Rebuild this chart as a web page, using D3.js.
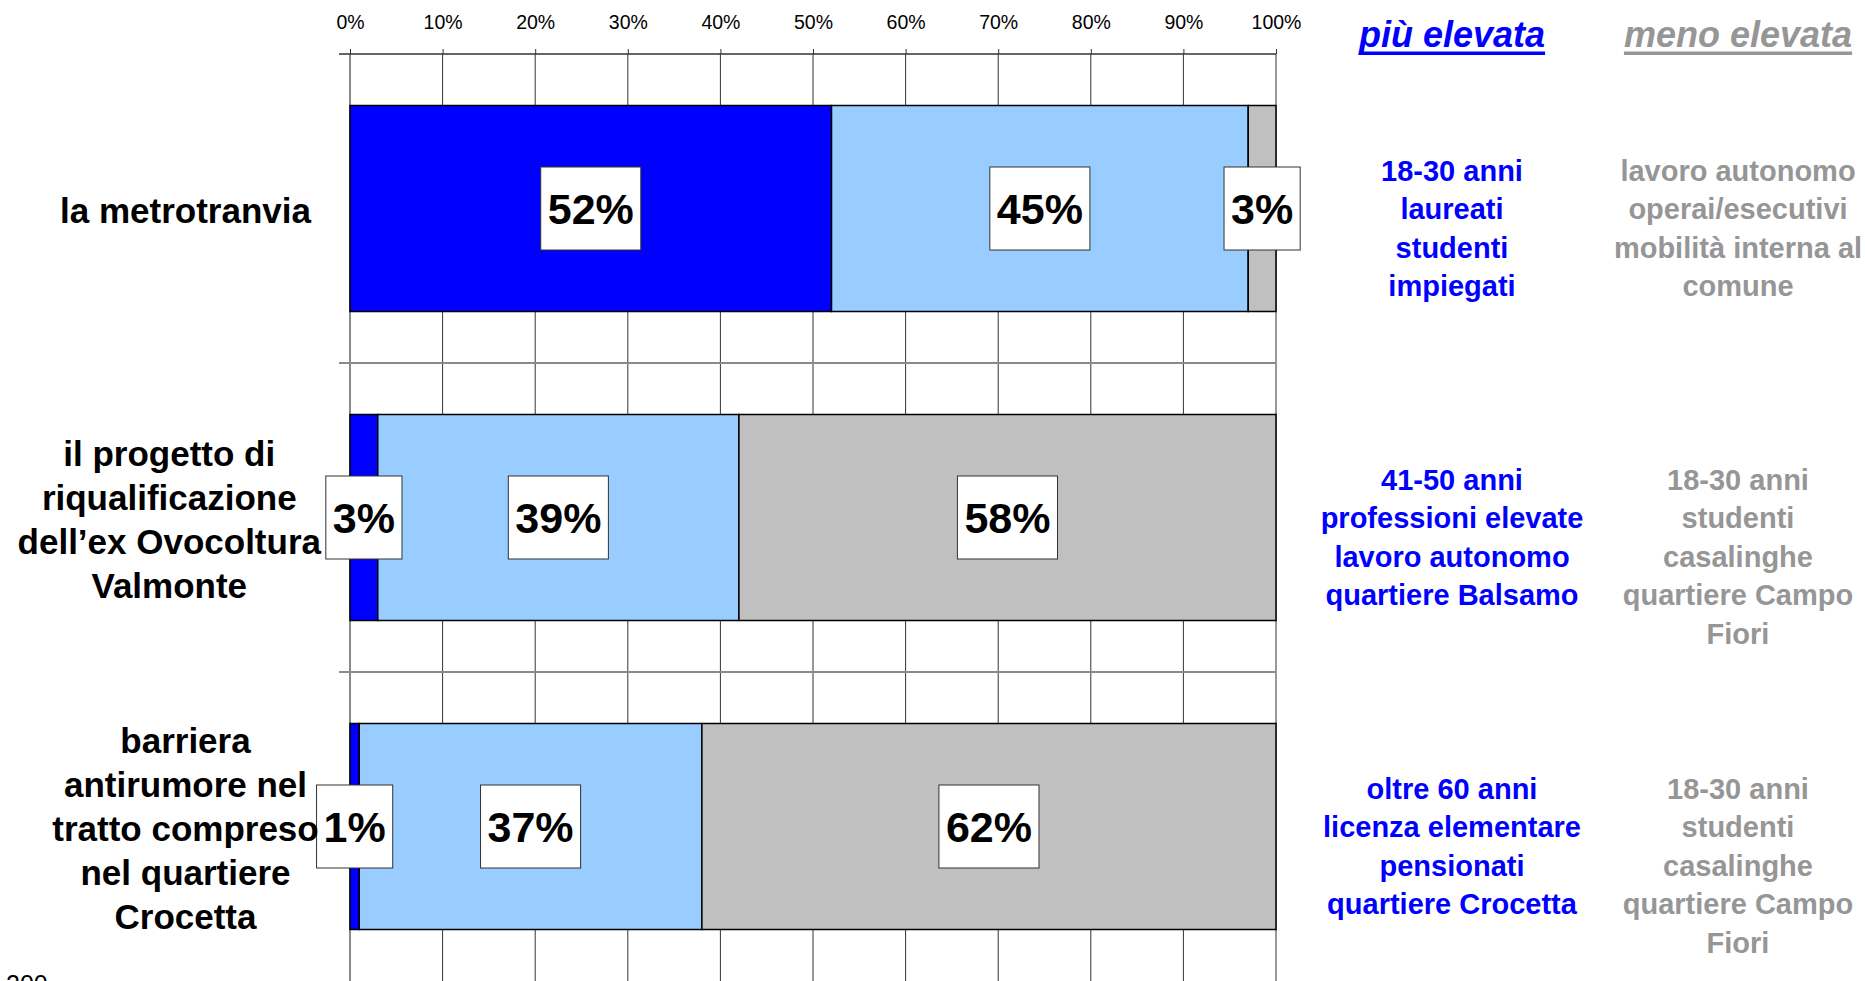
<!DOCTYPE html>
<html>
<head>
<meta charset="utf-8">
<script src="https://cdn.jsdelivr.net/npm/d3@7/dist/d3.min.js"></script>
<style>
  html, body { margin: 0; padding: 0; background: #fff; }
  svg { display: block; font-family: "Liberation Sans", Arial, sans-serif; }
</style>
</head>
<body>
<svg id="chart" width="1865" height="981"></svg>
<script>
// ---- data ----
const categories = ["la metrotranvia", "il progetto di riqualificazione dell’ex Ovocoltura Valmonte", "barriera antirumore nel tratto compreso nel quartiere Crocetta"];
const categoryLines = [
  ["la metrotranvia"],
  ["il progetto di", "riqualificazione", "dell’ex Ovocoltura", "Valmonte"],
  ["barriera", "antirumore nel", "tratto compreso", "nel quartiere", "Crocetta"]
];
const seriesNames = ["più elevata", "uguale", "meno elevata"];
const seriesHigh = [52, 3, 1];
const seriesMid = [45, 39, 37];
const seriesLow = [3, 58, 62];
const tickValues = [0, 10, 20, 30, 40, 50, 60, 70, 80, 90, 100];
const headerHigh = "più elevata";
const headerLow = "meno elevata";
const textHigh = [
  ["18-30 anni", "laureati", "studenti", "impiegati"],
  ["41-50 anni", "professioni elevate", "lavoro autonomo", "quartiere Balsamo"],
  ["oltre 60 anni", "licenza elementare", "pensionati", "quartiere Crocetta"]
];
const textLow = [
  ["lavoro autonomo", "operai/esecutivi", "mobilità interna al", "comune"],
  ["18-30 anni", "studenti", "casalinghe", "quartiere Campo", "Fiori"],
  ["18-30 anni", "studenti", "casalinghe", "quartiere Campo", "Fiori"]
];
const footnote = "200";

// ---- layout ----
const colors = ["#0000FF", "#99CCFF", "#C0C0C0"];
const blueText = "#0000FF", grayText = "#969696";
const svg = d3.select("#chart");

const x = d3.scaleLinear().domain([0, 100]).range([350, 1276]);
const y = d3.scaleBand().domain(categories).range([54, 981]).paddingInner(1/3).paddingOuter(1/6);
const step = y.step();

// gridlines
const grid = svg.append("g");
grid.selectAll("line.v").data(tickValues.slice(1)).join("line")
  .attr("x1", d => x(d)).attr("x2", d => x(d))
  .attr("y1", 54).attr("y2", 981)
  .attr("stroke", "#333").attr("stroke-width", 1);

// category separators
const seps = categories.slice(1).map(c => y(c) - step * (1/3) / 2);
grid.selectAll("line.s").data(seps).join("line")
  .attr("x1", 339).attr("x2", x(100))
  .attr("y1", d => d).attr("y2", d => d)
  .attr("stroke", "#8a8a8a").attr("stroke-width", 2);

// category axis line
grid.append("line").attr("x1", x(0)).attr("x2", x(0)).attr("y1", 54).attr("y2", 981)
  .attr("stroke", "#8a8a8a").attr("stroke-width", 2);

// top axis
const axisG = svg.append("g").attr("transform", "translate(0,54)")
  .call(d3.axisTop(x).tickValues(tickValues).tickFormat(d => d + "%").tickSize(5).tickSizeOuter(0).tickPadding(20));
axisG.select(".domain").remove();
axisG.selectAll(".tick line").attr("stroke", "#333");
axisG.selectAll(".tick text").attr("font-size", 19.5).attr("fill", "#000")
  .attr("font-family", "Liberation Sans, Arial, sans-serif");
svg.append("line").attr("x1", 339).attr("x2", x(100)).attr("y1", 54).attr("y2", 54)
  .attr("stroke", "#333").attr("stroke-width", 1.5);

// stacked data
const stackData = categories.map((c, i) => ({ cat: c, high: seriesHigh[i], mid: seriesMid[i], low: seriesLow[i] }));
const stack = d3.stack().keys(["high", "mid", "low"]);
const layers = stack(stackData);

const barsG = svg.append("g");
layers.forEach((layer, li) => {
  barsG.selectAll(null).data(layer).join("rect")
    .attr("x", d => x(d[0]))
    .attr("y", d => y(d.data.cat))
    .attr("width", d => x(d[1]) - x(d[0]))
    .attr("height", y.bandwidth())
    .attr("fill", colors[li])
    .attr("stroke", "#000").attr("stroke-width", 1.5);
});

// value labels
const labG = svg.append("g");
layers.forEach((layer, li) => {
  layer.forEach(d => {
    const cx = x((d[0] + d[1]) / 2);
    const cy = y(d.data.cat) + y.bandwidth() / 2;
    const v = d[1] - d[0];
    const g = labG.append("g");
    const t = g.append("text").attr("x", cx).attr("y", cy + 43 * 0.36)
      .attr("text-anchor", "middle").attr("font-size", 43).attr("font-weight", "bold")
      .attr("fill", "#000").text(v + "%");
    const w = t.node().getComputedTextLength() + 14;
    g.insert("rect", "text").attr("x", cx - w / 2).attr("y", cy - 41.5)
      .attr("width", w).attr("height", 83)
      .attr("fill", "#fff").attr("stroke", "#333").attr("stroke-width", 1);
  });
});

// category labels (lines centered; block kept left of the axis)
const catG = svg.append("g");
categories.forEach((c, i) => {
  const lines = categoryLines[i];
  const g = catG.append("g");
  const lh = 44;
  const cy = y(c) + y.bandwidth() / 2 + 2.5;
  const texts = lines.map((ln, k) => g.append("text")
    .attr("y", cy + (k - (lines.length - 1) / 2) * lh + 35 * 0.35)
    .attr("text-anchor", "middle").attr("font-size", 35).attr("font-weight", "bold")
    .attr("fill", "#000").text(ln));
  const maxW = d3.max(texts, t => t.node().getComputedTextLength());
  const center = Math.min(185.5, 321 - maxW / 2);
  texts.forEach(t => t.attr("x", center));
});

// headers
function header(txt, cx, color) {
  const t = svg.append("text").attr("x", cx).attr("y", 47)
    .attr("text-anchor", "middle").attr("font-size", 36).attr("font-weight", "bold")
    .attr("font-style", "italic").attr("fill", color).text(txt);
  const w = t.node().getComputedTextLength();
  svg.append("rect").attr("x", cx - w / 2).attr("y", 51.5).attr("width", w).attr("height", 3.5).attr("fill", color);
}
header(headerHigh, 1452, blueText);
header(headerLow, 1738, grayText);

// side columns
function column(data, cx, color) {
  categories.forEach((c, i) => {
    const cy = y(c) + y.bandwidth() / 2;
    data[i].forEach((ln, k) => {
      svg.append("text").attr("x", cx).attr("y", cy - 38 + k * 38.6 + 29 * 0.35)
        .attr("text-anchor", "middle").attr("font-size", 29).attr("font-weight", "bold")
        .attr("fill", color).text(ln);
    });
  });
}
column(textHigh, 1452, blueText);
column(textLow, 1738, grayText);

// footnote (clipped at bottom, as in the reference)
svg.append("text").attr("x", 6).attr("y", 993).attr("font-size", 25).attr("fill", "#000").text(footnote);
</script>
</body>
</html>
